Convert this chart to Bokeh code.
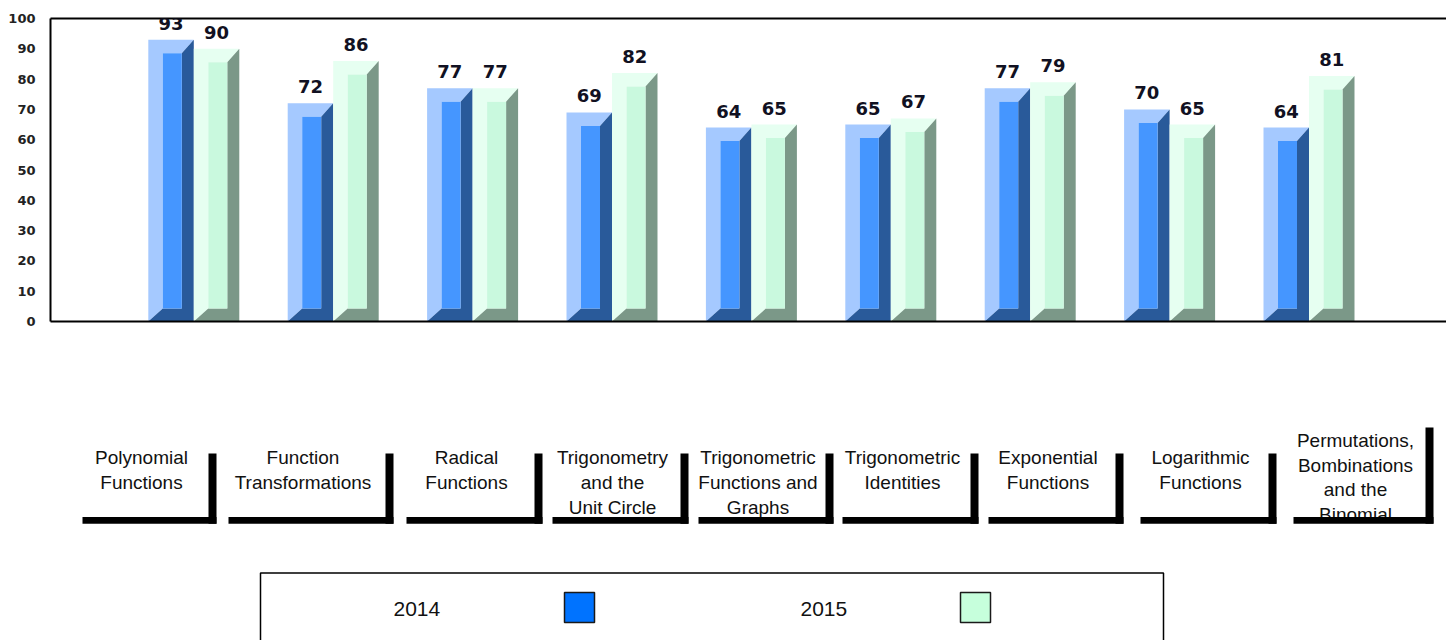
from bokeh.plotting import figure
from bokeh.models import Range1d, FixedTicker, LinearAxis, ColumnDataSource, LabelSet
from bokeh.layouts import column
from bokeh.embed import file_html
from bokeh.resources import INLINE
from bokeh.core.properties import value

# ---- data -------------------------------------------------------------
categories = [
    "Polynomial\nFunctions",
    "Function\nTransformations",
    "Radical\nFunctions",
    "Trigonometry\nand the\nUnit Circle",
    "Trigonometric\nFunctions and\nGraphs",
    "Trigonometric\nIdentities",
    "Exponential\nFunctions",
    "Logarithmic\nFunctions",
    "Permutations,\nBombinations\nand the\nBinomial",
]
years = ["2014", "2015"]
scores_2014 = [93, 72, 77, 69, 64, 65, 77, 70, 64]
scores_2015 = [90, 86, 77, 82, 65, 67, 79, 65, 81]
y_ticks = list(range(0, 101, 10))

# ---- styling ------------------------------------------------------------
W = 1446
GROUP_PX = 139.4            # pixels per category slot
FRAME_LEFT = 50
FRAME_W = W - FRAME_LEFT
X0 = -(193.3 - FRAME_LEFT) / GROUP_PX
PX_PER_UNIT_Y = 303 / 100.0

series_colors = {
    "2014": dict(light="#a5c9ff", inner="#4596ff", dark="#295a9a", swatch="#0073ff"),
    "2015": dict(light="#e6fff1", inner="#c9f9de", dark="#7b9888", swatch="#c6ffdc"),
}

BAR_W = 45.5 / GROUP_PX
BEV_L = 14.5 / GROUP_PX
BEV_R = 12.0 / GROUP_PX
BEV_T = 13.5 / PX_PER_UNIT_Y
BEV_B = 13.0 / PX_PER_UNIT_Y

p = figure(
    width=W, height=340,
    x_range=Range1d(X0, X0 + FRAME_W / GROUP_PX), y_range=Range1d(0, 100),
    x_axis_type=None, y_axis_type=None,
    output_backend="svg", toolbar_location=None,
    min_border_left=FRAME_LEFT, min_border_right=0, min_border_top=18, min_border_bottom=19,
    outline_line_color=None, background_fill_color="white",
)

yaxis = LinearAxis(
    ticker=FixedTicker(ticks=y_ticks),
    axis_line_color="black", axis_line_width=2,
    major_tick_line_color=None, minor_tick_line_color=None,
    major_label_standoff=9,
    major_label_text_font="DejaVu Sans",
    major_label_text_font_style="bold",
    major_label_text_font_size="13px",
    major_label_text_color="#222222",
)
p.add_layout(yaxis, "left")

for side in ("below", "above"):
    ax = LinearAxis(
        ticker=FixedTicker(ticks=[]),
        axis_line_color="black", axis_line_width=2,
        major_tick_line_color=None, minor_tick_line_color=None,
        major_label_text_font_size="0px",
    )
    p.add_layout(ax, side)


def bevel_bars(values, offset, colors):
    light_xs, light_ys, dark_xs, dark_ys = [], [], [], []
    il, ir, ib, it = [], [], [], []
    cx = []
    for i, v in enumerate(values):
        x0 = i + offset
        x1 = x0 + BAR_W
        xl, xr = x0 + BEV_L, x1 - BEV_R
        yb, yt = BEV_B, v - BEV_T
        light_xs.append([x0, x0, x1, xr, xl, xl])
        light_ys.append([0, v, v, yt, yt, yb])
        dark_xs.append([x1, x1, x0, xl, xr, xr])
        dark_ys.append([v, 0, 0, yb, yb, yt])
        il.append(xl); ir.append(xr); ib.append(yb); it.append(yt)
        cx.append((x0 + x1) / 2)
    p.patches(light_xs, light_ys, fill_color=colors["light"], line_color=None)
    p.patches(dark_xs, dark_ys, fill_color=colors["dark"], line_color=None)
    p.quad(left=il, right=ir, bottom=ib, top=it, fill_color=colors["inner"], line_color=None)
    src = ColumnDataSource(dict(x=cx, y=values, t=[str(v) for v in values]))
    p.add_layout(LabelSet(
        x="x", y="y", text="t", source=src,
        text_align="center", text_baseline="alphabetic", y_offset=10,
        text_font=value("DejaVu Sans"), text_font_style="bold",
        text_font_size="18px", text_color="#111122",
    ))


bevel_bars(scores_2014, -BAR_W, series_colors["2014"])
bevel_bars(scores_2015, 0.0, series_colors["2015"])

# ---- category tabs and legend (page-pixel coordinates) -----------------
q = figure(
    width=W, height=300,
    x_range=Range1d(FRAME_LEFT, W), y_range=Range1d(640, 340),
    x_axis_type=None, y_axis_type=None,
    output_backend="svg", toolbar_location=None,
    min_border_left=FRAME_LEFT, min_border_right=0, min_border_top=0, min_border_bottom=0,
    outline_line_color=None,
)

tab_left = [82, 228, 406, 552, 698, 842, 988, 1140, 1293]
tab_right = [216, 393, 542, 688, 833, 978, 1123, 1276, 1433]
tab_top = [453, 453, 453, 453, 453, 453, 453, 453, 427]
first_baseline = [457, 457, 457, 457, 457, 457, 457, 457, 440]
line_gap = [25, 25, 25, 25, 25, 25, 25, 25, 24.5]
VBAR = 8
HBAR_TOP, HBAR_BOT = 516.5, 523.3

tx, ty, tt = [], [], []
for k, label in enumerate(categories):
    cx = (tab_left[k] + tab_right[k] - VBAR) / 2 - 4
    for j, line in enumerate(label.split("\n")):
        tx.append(cx)
        ty.append(first_baseline[k] + j * line_gap[k])
        tt.append(line)
q.text(x=tx, y=ty, text=tt, text_align="center", text_baseline="alphabetic",
       text_font=value("Liberation Sans"), text_font_size="19px", text_color="#111111")

q.quad(left=tab_left, right=tab_right, top=[HBAR_TOP] * 9, bottom=[HBAR_BOT] * 9,
       fill_color="black", line_color=None)
q.quad(left=[r - VBAR for r in tab_right], right=tab_right, top=tab_top,
       bottom=[HBAR_BOT] * 9, fill_color="black", line_color=None)

# legend box
q.quad(left=[260], right=[1163], top=[572.5], bottom=[660],
       fill_color="white", line_color="black", line_width=1.5)
q.text(x=[393, 800], y=[608, 608], text=years, text_align="left",
       text_baseline="alphabetic", text_font=value("Liberation Sans"),
       text_font_size="21px", text_color="#111111")
q.quad(left=[564, 960], right=[594, 990], top=[592, 592], bottom=[622, 622],
       fill_color=[series_colors[y]["swatch"] for y in years],
       line_color="#1a1a1a", line_width=1.5)

layout = column(p, q, spacing=0)
open("out.html", "w").write(file_html(layout, INLINE))
